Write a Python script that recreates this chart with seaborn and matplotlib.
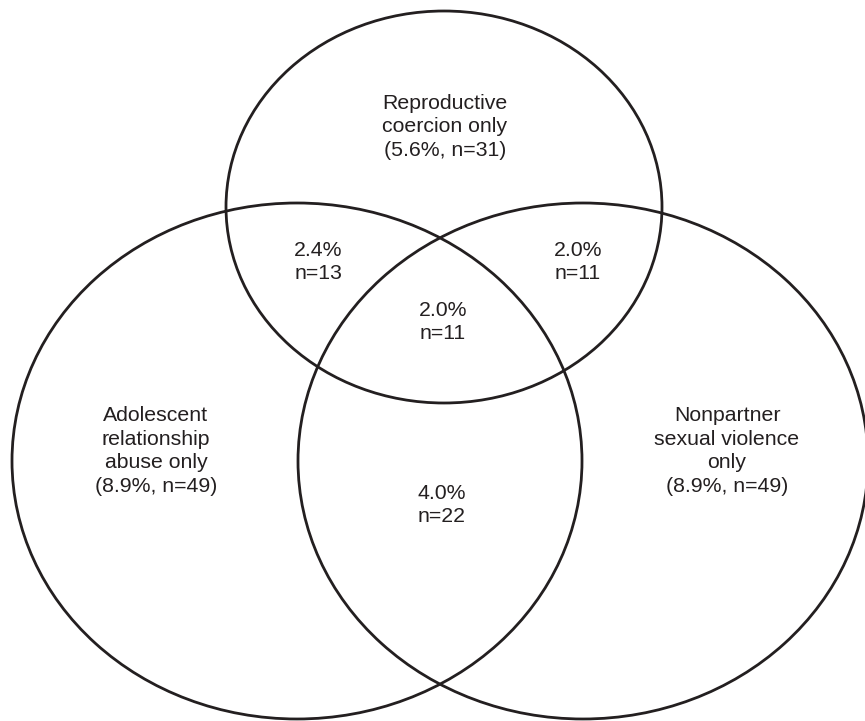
import matplotlib
matplotlib.use("Agg")
import matplotlib.pyplot as plt
from matplotlib.patches import Ellipse
import seaborn as sns

# region values
regions = ["rc_only", "rc_ara", "rc_nsv", "all_three", "ara_only", "nsv_only", "ara_nsv"]
region_names = ["Reproductive\ncoercion only", None, None, None,
                "Adolescent\nrelationship\nabuse only",
                "Nonpartner\nsexual violence\nonly", None]
pct = [5.6, 2.4, 2.0, 2.0, 8.9, 8.9, 4.0]
counts = [31, 13, 11, 11, 49, 49, 22]

# layout (pixel space of the 865x721 canvas)
circle_centers = [(444, 207), (297, 461), (583, 461)]   # top, left, right
circle_radii = [(218, 196), (285, 258), (285, 258)]
label_pos = [(445, 127), (318, 262), (578, 262), (443, 322),
             (156, 451), (727, 451), (442, 505)]

sns.set_theme(style="white")
plt.rcParams["font.family"] = ["Liberation Sans", "DejaVu Sans"]

fig = plt.figure(figsize=(8.65, 7.21), dpi=100)
ax = fig.add_axes([0, 0, 1, 1])
ax.set_xlim(0, 865)
ax.set_ylim(721, 0)
ax.axis("off")

ink = "#231f20"
for (cx, cy), (rx, ry) in zip(circle_centers, circle_radii):
    ax.add_patch(Ellipse((cx, cy), 2 * rx, 2 * ry, fill=False,
                         edgecolor=ink, linewidth=2.0))

for name, p, n, (x, y) in zip(region_names, pct, counts, label_pos):
    if name is None:
        txt = f"{p:.1f}%\nn={n}"
    else:
        txt = f"{name}\n({p:.1f}%, n={n})"
    ax.text(x, y, txt, ha="center", va="center", fontsize=15.3,
            color=ink, linespacing=1.32)

fig.savefig("out.png", dpi=100)
